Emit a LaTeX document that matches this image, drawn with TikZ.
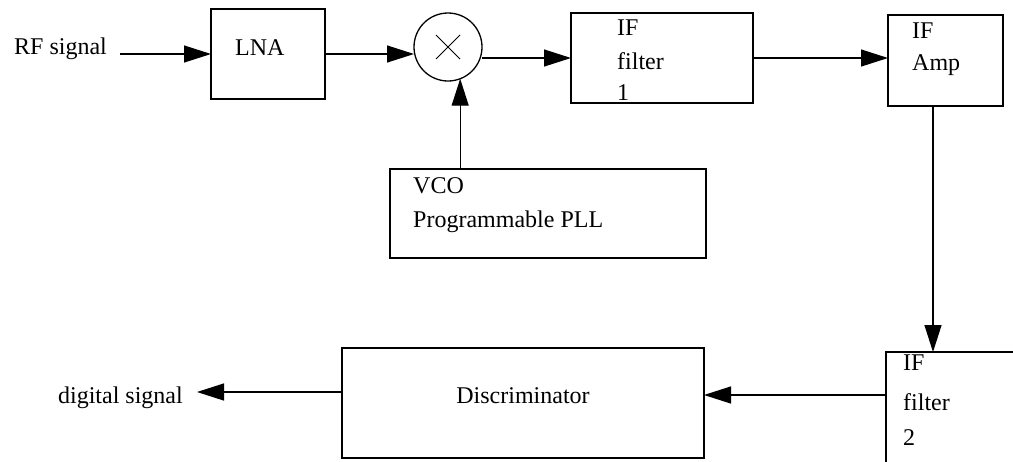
\documentclass[tikz,border=0pt]{standalone}
\usepackage{fontspec}
\setmainfont{Liberation Serif}
\usetikzlibrary{arrows.meta,calc}
\begin{document}
\begin{tikzpicture}[x=1pt,y=-1pt,
  box/.style={draw, line width=1.3pt, inner sep=0pt, outer sep=0pt, anchor=north west},
  txt/.style={inner sep=0pt, anchor=base west, font=\fontsize{24}{28}\selectfont},
  arr/.style={line width=1.3pt, -{Triangle[length=27pt,width=17pt]}},
]
\useasboundingbox (0,0) rectangle (1013,461);
\clip (0,0) rectangle (1013,461);

% blocks
\node[box, minimum width=114pt, minimum height=90pt] (lna) at (211,9) {};
\node[circle, draw, line width=1.3pt, minimum size=68pt, inner sep=0pt, outer sep=0pt] (mix) at (448,47) {};
\node[box, minimum width=182pt, minimum height=90pt] (if1) at (571,13) {};
\node[box, minimum width=115pt, minimum height=91pt] (ifamp) at (888,15) {};
\node[box, minimum width=316pt, minimum height=89pt] (vco) at (390,169) {};
\node[box, minimum width=150pt, minimum height=130pt] (if2) at (886,352) {};
\node[box, minimum width=362pt, minimum height=110pt] (disc) at (342,348) {};

% multiplier sign
\draw[line width=0.9pt] ($(mix.center)+(-12,-12)$) -- ($(mix.center)+(12,12)$);
\draw[line width=0.9pt] ($(mix.center)+(-12,12)$) -- ($(mix.center)+(12,-12)$);

% labels
\node[txt] (rftxt) at (14,54) {RF signal};
\node[txt] (lnatxt) at (235,55) {LNA};
\node[txt] (if1a) at (617,35) {IF};
\node[txt] (if1b) at (617,69) {filter};
\node[txt] (if1c) at (617,100) {1};
\node[txt] (ampa) at (912,38) {IF};
\node[txt] (ampb) at (912,70) {Amp};
\node[txt] (vcoa) at (413,193) {VCO};
\node[txt] (vcob) at (413,227) {Programmable PLL};
\node[txt] (if2a) at (903,370) {IF};
\node[txt] (if2b) at (903,410) {filter};
\node[txt] (if2c) at (903,445) {2};
\node[txt, anchor=base] (disctxt) at (523,403) {Discriminator};
\node[txt, anchor=base east] (dtxt) at (183,403) {digital signal};

% signal path
\coordinate (rfin) at (120,54);
\coordinate (dout) at (197,392);
\draw[arr] (rfin) -- (lna.west);
\draw[arr] (lna.east) -- (lna.east -| mix.west);
\draw[arr] (if1.west -| mix.east) -- (if1.west);
\draw[arr] (mix.-69 |- vco.north) -- (mix.-69);
\draw[arr] (if1.east) -- (if1.east -| ifamp.west);
\draw[arr] ($(ifamp.south west)+(45,0)$) coordinate (a1) -- (a1 |- if2.north);
\draw[arr] ($(if2.north west)+(0,43)$) coordinate (d1) -- (d1 -| disc.east);
\draw[arr] (disc.west |- dout) -- (dout);
\end{tikzpicture}
\end{document}
